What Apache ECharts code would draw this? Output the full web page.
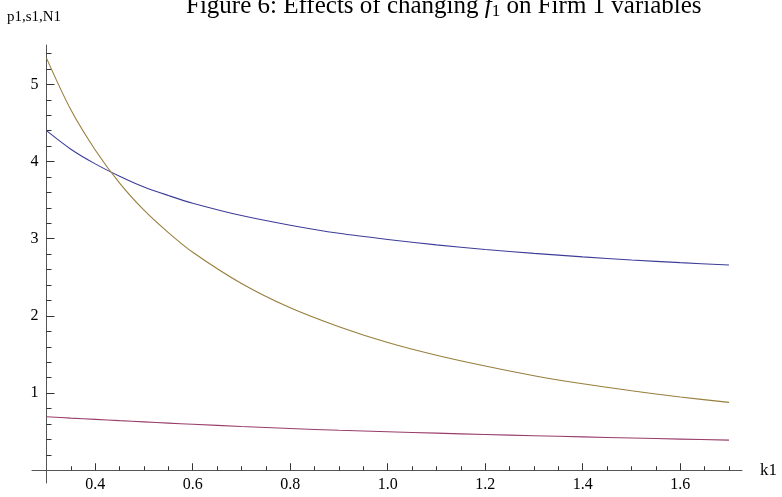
<!DOCTYPE html>
<html>
<head>
<meta charset="utf-8">
<script src="https://cdn.jsdelivr.net/npm/echarts@6/dist/echarts.min.js"></script>
<style>html,body{margin:0;padding:0;background:#fff;}#c{width:782px;height:497px;}</style>
</head>
<body>
<div id="c"></div>
<script>
// Data
const k1 = [0.3, 0.35, 0.4, 0.45, 0.5, 0.55, 0.6, 0.7, 0.8, 0.9, 1.0, 1.1, 1.2, 1.3, 1.4, 1.5, 1.6, 1.7];
const p1 = [4.40, 4.16, 3.97, 3.81, 3.67, 3.56, 3.46, 3.30, 3.175, 3.07, 2.99, 2.92, 2.86, 2.81, 2.765, 2.725, 2.69, 2.66];
const s1 = [0.693, 0.676, 0.66, 0.643, 0.627, 0.611, 0.596, 0.567, 0.541, 0.518, 0.499, 0.481, 0.463, 0.447, 0.433, 0.418, 0.404, 0.390];
const N1 = [5.34, 4.67, 4.15, 3.72, 3.37, 3.08, 2.825, 2.42, 2.105, 1.86, 1.655, 1.49, 1.35, 1.225, 1.12, 1.03, 0.95, 0.88];

const xMajorTicks = [0.4, 0.6, 0.8, 1.0, 1.2, 1.4, 1.6];
const xMinorTicks = [0.35, 0.45, 0.5, 0.55, 0.65, 0.7, 0.75, 0.85, 0.9, 0.95, 1.05, 1.1, 1.15, 1.25, 1.3, 1.35, 1.45, 1.5, 1.55, 1.65, 1.7];
const yMajorTicks = [1, 2, 3, 4, 5];
const yMinorTicks = [0.2, 0.4, 0.6, 0.8, 1.2, 1.4, 1.6, 1.8, 2.2, 2.4, 2.6, 2.8, 3.2, 3.4, 3.6, 3.8, 4.2, 4.4, 4.6, 4.8, 5.2, 5.4];

const FONT = 'Liberation Serif';
const pairs = (ys) => k1.map((k, i) => [k, ys[i]]);

const XMIN = 0.2703, XMAX = 1.7267, YMIN = -0.165, YMAX = 5.51;

const chart = echarts.init(document.getElementById('c'), null, {renderer: 'canvas'});
chart.setOption({
  backgroundColor: '#ffffff',
  animation: false,
  title: {
    text: 'Figure 6: Effects of changing {it|f}{sub|1} on Firm 1 variables',
    left: 181,
    top: -12,
    textStyle: {
      fontFamily: FONT, fontSize: 25, fontWeight: 'normal', color: '#000',
      rich: {
        it: {fontFamily: FONT, fontSize: 25, fontStyle: 'italic', color: '#000'},
        sub: {fontFamily: FONT, fontSize: 17, color: '#000', verticalAlign: 'bottom', padding: [10, 0, 0, 0]}
      }
    }
  },
  grid: {left: 32, right: 40, top: 45, bottom: 14, containLabel: false, outerBoundsMode: 'none'},
  xAxis: [
    {
      type: 'value', min: XMIN, max: XMAX, position: 'bottom',
      name: 'k1', nameLocation: 'end', nameGap: 18,
      nameTextStyle: {fontFamily: FONT, fontSize: 17, color: '#000'},
      axisLine: {show: true, onZero: true, onZeroAxisIndex: 0, lineStyle: {color: '#555', width: 1}},
      axisTick: {show: true, inside: true, length: 7, customValues: xMajorTicks, lineStyle: {color: '#333', width: 1}},
      axisLabel: {show: true, customValues: xMajorTicks, margin: -6, formatter: v => Number(v).toFixed(1),
                  fontFamily: FONT, fontSize: 16, color: '#000'},
      splitLine: {show: false}
    },
    {
      type: 'value', min: XMIN, max: XMAX, position: 'bottom',
      axisLine: {show: false, onZero: true, onZeroAxisIndex: 0},
      axisTick: {show: true, inside: true, length: 4, customValues: xMinorTicks, lineStyle: {color: '#333', width: 1}},
      axisLabel: {show: false},
      splitLine: {show: false}
    }
  ],
  yAxis: [
    {
      type: 'value', min: YMIN, max: YMAX, position: 'left', offset: -14.5,
      name: 'p1,s1,N1', nameLocation: 'end', nameGap: 20,
      nameTextStyle: {fontFamily: FONT, fontSize: 15, color: '#000', padding: [0, 25, 0, 0]},
      axisLine: {show: true, onZero: false, lineStyle: {color: '#555', width: 1}},
      axisTick: {show: true, inside: true, length: 8, customValues: yMajorTicks, lineStyle: {color: '#333', width: 1}},
      axisLabel: {show: true, customValues: yMajorTicks, margin: 8, fontFamily: FONT, fontSize: 16, color: '#000'},
      splitLine: {show: false}
    },
    {
      type: 'value', min: YMIN, max: YMAX, position: 'left', offset: -14.5,
      axisLine: {show: false, onZero: false},
      axisTick: {show: true, inside: true, length: 5, customValues: yMinorTicks, lineStyle: {color: '#333', width: 1}},
      axisLabel: {show: false},
      splitLine: {show: false}
    }
  ],
  series: [
    {name: 'p1', type: 'line', data: pairs(p1), smooth: 0.3, showSymbol: false, xAxisIndex: 0, yAxisIndex: 0,
     lineStyle: {color: '#3d3d99', width: 1.1}, itemStyle: {color: '#3d3d99'}},
    {name: 's1', type: 'line', data: pairs(s1), smooth: 0.3, showSymbol: false, xAxisIndex: 0, yAxisIndex: 0,
     lineStyle: {color: '#993d6b', width: 1.1}, itemStyle: {color: '#993d6b'}},
    {name: 'N1', type: 'line', data: pairs(N1), smooth: 0.3, showSymbol: false, xAxisIndex: 0, yAxisIndex: 0,
     lineStyle: {color: '#997f3d', width: 1.1}, itemStyle: {color: '#997f3d'}}
  ]
});
</script>
</body>
</html>
